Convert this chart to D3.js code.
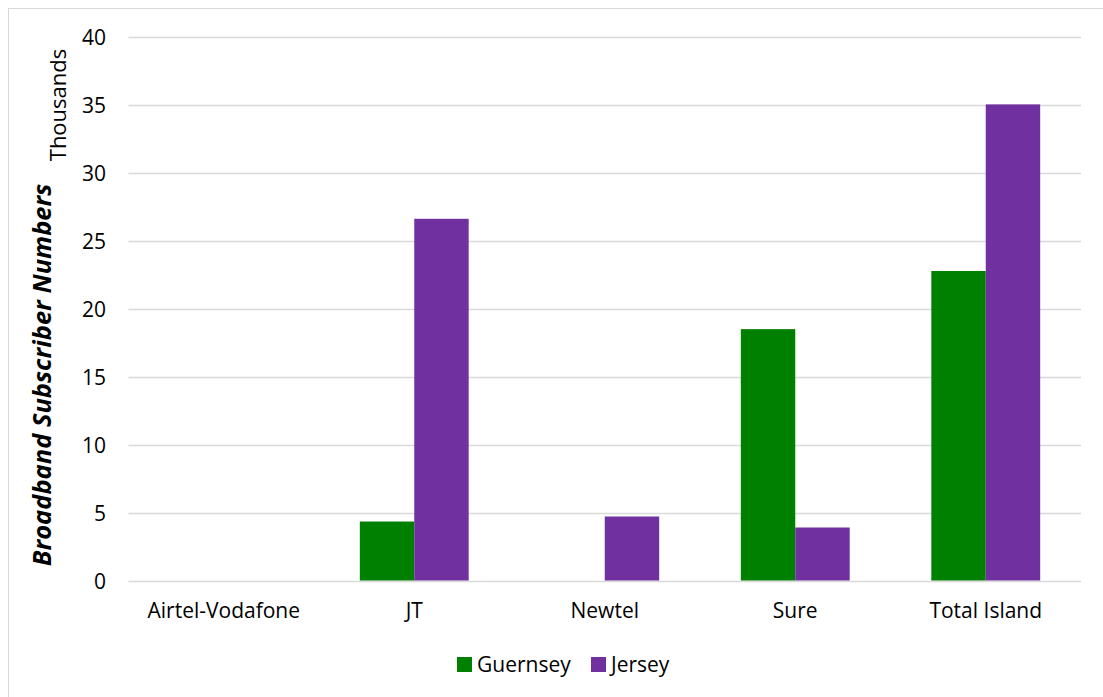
<!DOCTYPE html>
<html>
<head>
<meta charset="utf-8">
<script src="https://cdn.jsdelivr.net/npm/d3@7"></script>
<style>
  html, body { margin: 0; padding: 0; background: #fff; }
  svg text { font-family: "Open Sans", "Noto Sans", sans-serif; fill: #000; }
</style>
</head>
<body>
<svg id="chart" width="1103" height="697"></svg>
<script>
// Broadband subscribers by operator, in thousands
const categories = ["Airtel-Vodafone", "JT", "Newtel", "Sure", "Total Island"];
const seriesNames = ["Guernsey", "Jersey"];
const guernsey = [0, 4.34, 0, 18.5, 22.78];
const jersey = [0, 26.62, 4.71, 3.9, 35.04];
const yTicks = [0, 5, 10, 15, 20, 25, 30, 35, 40];
const colors = ["#008000", "#7030A0"];

const svg = d3.select("#chart");
const margin = { left: 128.5, right: 1081, top: 37, bottom: 580.5 };

// outer chart frame
svg.append("rect")
  .attr("x", 8.5).attr("y", 8.5)
  .attr("width", 1110).attr("height", 710)
  .attr("fill", "#fff").attr("stroke", "#D9D9D9").attr("stroke-width", 1);

const x = d3.scaleBand().domain(categories).range([margin.left, margin.right]);
// gap width 150% between groups of two bars
const x1 = d3.scaleBand().domain(seriesNames)
  .range([x.bandwidth() * 0.75 / 3.5, x.bandwidth() * (1 - 0.75 / 3.5)]);
const y = d3.scaleLinear().domain([0, 40]).range([margin.bottom, margin.top]);

// horizontal gridlines
svg.append("g").selectAll("line").data(yTicks).join("line")
  .attr("x1", margin.left).attr("x2", margin.right)
  .attr("y1", d => Math.round(y(d)) + 0.5).attr("y2", d => Math.round(y(d)) + 0.5)
  .attr("stroke", "#D9D9D9").attr("stroke-width", 1.5);

// y tick labels
const yAxis = d3.axisLeft(y).tickValues(yTicks).tickSize(0).tickPadding(0);
const gy = svg.append("g").attr("transform", "translate(106,0)").call(yAxis);
gy.select(".domain").remove();
gy.selectAll("text").attr("font-size", 21).attr("font-family", "Open Sans, sans-serif")
  .attr("fill", "#000").attr("dy", "0.36em");

// bars
const rows = categories.map((c, i) => ({ cat: c, values: [guernsey[i], jersey[i]] }));
const groups = svg.append("g").selectAll("g").data(rows).join("g")
  .attr("transform", d => `translate(${x(d.cat)},0)`);
groups.selectAll("rect").data(d => d.values.map((v, j) => ({ v, s: seriesNames[j], j })))
  .join("rect")
  .attr("x", d => x1(d.s))
  .attr("width", x1.bandwidth())
  .attr("y", d => y(d.v))
  .attr("height", d => y(0) - y(d.v))
  .attr("fill", d => colors[d.j]);

// category labels
const xAxis = d3.axisBottom(x).tickSize(0).tickPadding(0);
const gx = svg.append("g").attr("transform", "translate(0,618)").call(xAxis);
gx.select(".domain").remove();
gx.selectAll("text").attr("font-size", 21).attr("font-family", "Open Sans, sans-serif")
  .attr("fill", "#000").attr("dy", 0).attr("y", 0);

// axis titles
svg.append("text")
  .attr("transform", "translate(51,375) rotate(-90)")
  .attr("text-anchor", "middle")
  .attr("font-size", 25.5).attr("font-weight", "bold").attr("font-style", "italic")
  .text("Broadband Subscriber Numbers");
svg.append("text")
  .attr("transform", "translate(66,105) rotate(-90)")
  .attr("text-anchor", "middle")
  .attr("font-size", 22)
  .text("Thousands");

// legend
const legendItems = [
  { name: seriesNames[0], color: colors[0], x: 457 },
  { name: seriesNames[1], color: colors[1], x: 591 }
];
const lg = svg.append("g").selectAll("g").data(legendItems).join("g")
  .attr("transform", d => `translate(${d.x},657)`);
lg.append("rect").attr("width", 15).attr("height", 15).attr("fill", d => d.color);
lg.append("text").attr("x", 20).attr("y", 15)
  .attr("font-size", 21).text(d => d.name);
</script>
</body>
</html>
